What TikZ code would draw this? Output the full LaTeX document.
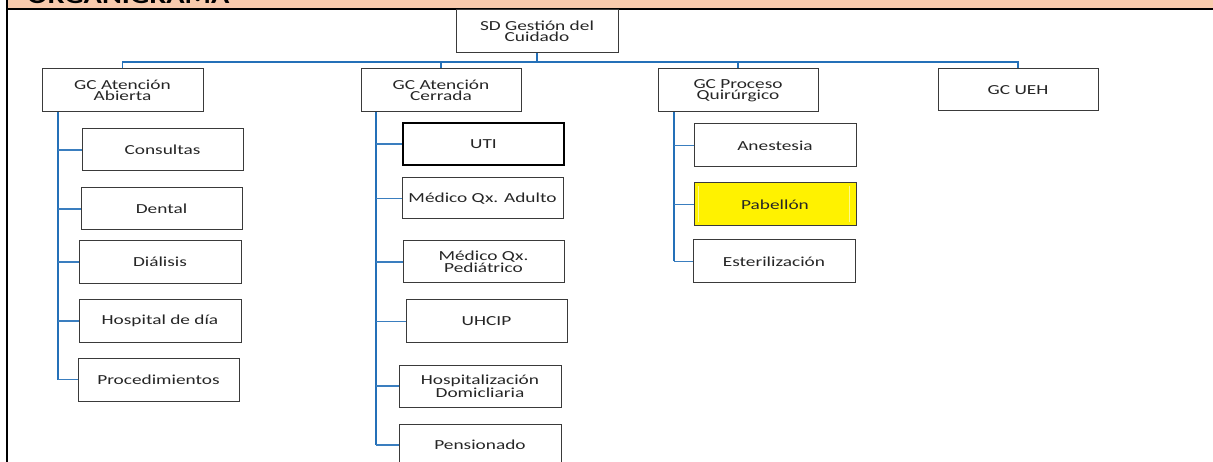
\documentclass[tikz,border=0pt]{standalone}
\usepackage{fontspec}
\setmainfont{Carlito}[FakeStretch=1.4]
\newfontfamily\titlefont{Carlito}[FakeStretch=1.26]
\definecolor{peach}{HTML}{F8CBAD}
\definecolor{linkblue}{HTML}{2470B8}
\definecolor{boxline}{HTML}{3A3A3A}
\definecolor{boxtext}{HTML}{262626}
\tikzset{
  unit/.style={draw=boxline, line width=1pt, fill=white, inner sep=0pt,
    align=center, text=boxtext, minimum width=161pt, minimum height=43pt,
    font=\fontsize{13.8}{11.5}\selectfont},
  trunk/.style={draw=linkblue, line width=2pt},
  branch/.style={draw=linkblue!90!white, line width=1.5pt},
  bus/.style={draw=linkblue, line width=1.4pt},
}
\begin{document}
\begin{tikzpicture}[x=1pt,y=-1pt]
\clip (0,0) rectangle (1213,462);
\fill[white] (0,0) rectangle (1213,462);

% header band with the title
\fill[peach] (7,0) rectangle (1213,8.5);
\begin{scope}
  \clip (8,0) rectangle (1213,8);
  \node[anchor=base west, inner sep=0pt, text=black,
        font=\titlefont\bfseries\fontsize{24}{24}\selectfont] (title) at (27,4) {ORGANIGRAMA};
\end{scope}
\draw[line width=2.2pt] (6,9) -- (1213,9);
\draw[line width=2.2pt] (7,0) -- (7,462);

% top level
\node[unit, minimum width=162pt] (sd) at (537,31.5) {SD Gestión del\\Cuidado};

% management units
\node[unit] (ab)  at (122.5,90.5) {GC Atención\\Abierta};
\node[unit, minimum width=160pt] (ac)  at (441,90.5)   {GC Atención\\Cerrada};
\node[unit, minimum width=160pt] (pq)  at (738,90.5)   {GC Proceso\\Quirúrgico};
\node[unit, minimum width=160pt, minimum height=42pt] (ueh) at (1018,90) {GC UEH};

% Atención Abierta
\node[unit, minimum height=42pt] (cons) at (162.5,150) {Consultas};
\node[unit, minimum height=42pt] (dent) at (161.5,209) {Dental};
\node[unit, minimum width=162pt] (dial) at (160,262) {Diálisis};
\node[unit, minimum width=162pt] (hosp) at (160,321) {Hospital de día};
\node[unit] (proc) at (158.5,379.5) {Procedimientos};

% Atención Cerrada
\node[unit, minimum height=42pt, draw=black, line width=1.6pt] (uti) at (483.5,144) {UTI};
\node[unit, minimum height=41pt] (mqa) at (482.5,198.5) {Médico Qx. Adulto};
\node[unit, minimum height=42pt] (mqp) at (483.5,262) {Médico Qx.\\Pediátrico};
\node[unit] (uhcip) at (486.5,321.5) {UHCIP};
\node[unit, minimum width=162pt, minimum height=42pt] (hdom) at (480,386) {Hospitalización\\Domicliaria};
\node[unit, minimum width=162pt, minimum height=42pt] (pens) at (480,445) {Pensionado};

% Proceso Quirúrgico
\node[unit, minimum width=162pt] (anes) at (775,145.5) {Anestesia};
\node[unit, minimum width=162pt, fill=yellow] (pab) at (775,204.5) {Pabellón};
\draw[yellow!45!white, line width=1pt] ([xshift=4.5pt,yshift=-4pt]pab.north west) -- ([xshift=4.5pt,yshift=4pt]pab.south west);
\draw[yellow!45!white, line width=1pt] ([xshift=-7.5pt,yshift=-4pt]pab.north east) -- ([xshift=-7.5pt,yshift=4pt]pab.south east);
\node[unit, minimum width=162pt] (est) at (774,261.5) {Esterilización};

% bus below the top unit
\coordinate (busy) at (0,62);
\draw[trunk] (sd.south) -- (sd.south |- busy);
\draw[bus] (ab.north) |- (ueh.north |- busy) -- (ueh.north);
\draw[bus] (ac.north) -- (ac.north |- busy);
\draw[bus] (pq.north) -- (pq.north |- busy);

% trunks of each management unit
\coordinate (abT) at ([xshift=16pt]ab.south west);
\coordinate (acT) at ([xshift=15pt]ac.south west);
\coordinate (pqT) at ([xshift=16pt]pq.south west);

\draw[trunk] (abT) -- (abT |- proc.west);
\foreach \c in {cons,dent,dial,hosp,proc}
  \draw[branch] (abT |- \c.west) -- (\c.west);

\draw[trunk] (acT) -- (acT |- pens.west);
\foreach \c in {uti,mqa,mqp,uhcip,hdom,pens}
  \draw[branch] (acT |- \c.west) -- (\c.west);

\draw[trunk] (pqT) -- (pqT |- est.west);
\foreach \c in {anes,pab,est}
  \draw[branch] (pqT |- \c.west) -- (\c.west);
\end{tikzpicture}
\end{document}
